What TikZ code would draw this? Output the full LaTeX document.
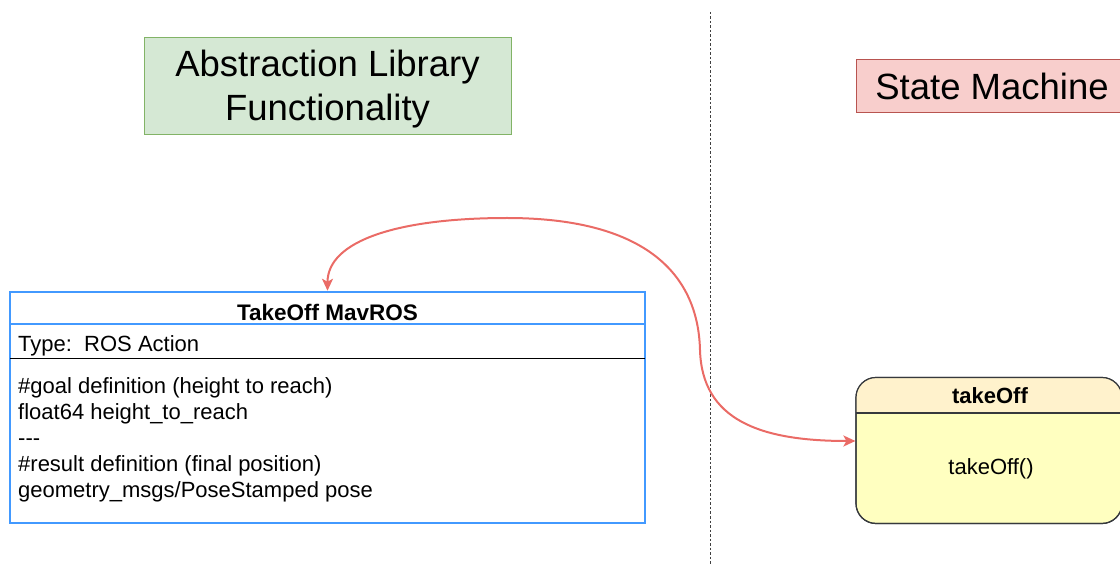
\documentclass[tikz,border=0pt]{standalone}
\usepackage{fontspec}
\setmainfont{Liberation Sans}
\usetikzlibrary{arrows.meta}
\definecolor{greenfill}{HTML}{D5E8D4}
\definecolor{greenline}{HTML}{82B366}
\definecolor{redfill}{HTML}{F8CECC}
\definecolor{redline}{HTML}{B85450}
\definecolor{tblblue}{HTML}{4299FF}
\definecolor{sthead}{HTML}{FFF2CC}
\definecolor{stbody}{HTML}{FFFFC0}
\definecolor{stline}{HTML}{36393D}
\definecolor{linkred}{HTML}{EA6B66}
\tikzset{
  titlebox/.style={draw, line width=1pt, inner sep=0pt, align=center,
    font=\fontsize{36.5}{44}\selectfont},
  link/.style={draw=linkred, line width=2pt,
    {Stealth[length=12pt,width=11pt,inset=3pt]}-{Stealth[length=12pt,width=11pt,inset=3pt]}},
}
\begin{document}
\begin{tikzpicture}[x=1pt,y=-1pt]
\useasboundingbox (0,0) rectangle (1120,569);
\clip (0,0) rectangle (1120,569);

% section headings
\node[titlebox, fill=greenfill, draw=greenline, minimum width=367pt, minimum height=97pt]
  (lib) at (327.5,86.5) {};
\node[titlebox, draw=none, fill=none] (libtext) at (327.5,89) {Abstraction Library\\Functionality};
\node[titlebox, fill=redfill, draw=redline, minimum width=272pt, minimum height=53pt]
  (sm) at (992,86.5) {State Machine};

% divider
\draw[line width=1pt, black!75, dash pattern=on 2.5pt off 2pt] (710,12) -- (710,565);

% action definition table
\node[draw=tblblue, line width=2.5pt, minimum width=635pt, minimum height=231pt, inner sep=0pt]
  (tbl) at (327.5,407.5) {};
\draw[tblblue, line width=2pt] (10,324) -- (645,324);
\draw[black, line width=1pt] (10,359) -- (645,359);
\node[anchor=base, font=\bfseries\fontsize{22.5}{26}\selectfont, inner sep=0pt]
  (tbltitle) at (327.5,321) {TakeOff MavROS};
\node[anchor=base west, font=\fontsize{22}{26}\selectfont, inner sep=0pt]
  (tbltype) at (18,352) {Type:\ \ ROS Action};
% base anchor of a multi-line node sits on its last line
\node[anchor=base west, align=left, font=\fontsize{22}{26}\selectfont, inner sep=0pt]
  (tblbody) at (18,497) {\#goal definition (height to reach)\\
  float64 height\_to\_reach\\
  -{}-{}-\\
  \#result definition (final position)\\
  geometry\_msgs/PoseStamped pose};

% state
\node[draw=stline, line width=1.2pt, rounded corners=20pt, fill=stbody,
  minimum width=266pt, minimum height=146pt, inner sep=0pt] (st) at (989,450.5) {};
\begin{scope}
  \clip[rounded corners=20pt] (856,377.5) rectangle (1122,523.5);
  \fill[sthead] (856,377.5) rectangle (1122,413);
\end{scope}
\draw[stline, line width=1.2pt, rounded corners=20pt] (856,377.5) rectangle (1122,523.5);
\draw[stline, line width=1.2pt] (856,413) -- (1122,413);
\node[font=\bfseries\fontsize{22}{26}\selectfont, anchor=base, inner sep=0pt]
  (sttitle) at (990,404) {takeOff};
\node[font=\fontsize{22}{26}\selectfont, inner sep=0pt]
  (stbody) at (991,469) {takeOff()};

% link between state and action
\draw[link] (tbl.north) .. controls (327.5,240) and (400,218) .. (507,218)
  .. controls (640,218) and (698,270) .. (700,350)
  .. controls (702,420) and (760,441) .. ([yshift=9.5pt]st.west);
\end{tikzpicture}
\end{document}
